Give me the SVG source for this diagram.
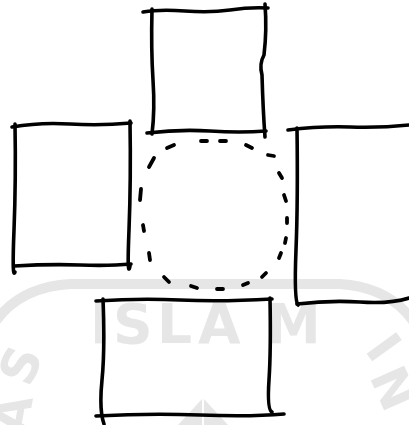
<svg xmlns="http://www.w3.org/2000/svg" width="409" height="425" viewBox="0 0 409 425">
<style>
.wm{fill:#e6e6e6;font-family:"DejaVu Sans","Liberation Sans",sans-serif;font-weight:bold;}
.ln{fill:none;stroke:#000;stroke-width:3.6;stroke-linecap:round;stroke-linejoin:round;}
.dash{fill:none;stroke:#000;stroke-width:3.8;stroke-linecap:round;}
</style>
<rect width="409" height="425" fill="#fff"/>
<g id="watermark">
<path d="M-5,322 Q20,287 70,284 L340,284 Q389,287 414,322" fill="none" stroke="#e6e6e6" stroke-width="10"/>
<text class="wm" x="90 113 157 198 266" y="343" font-size="55">ISLAM</text>
<text class="wm" font-size="50" text-anchor="middle" dy="18" transform="translate(20,365) rotate(-68)">S</text>
<text class="wm" font-size="50" text-anchor="middle" dy="18" transform="translate(12,414) rotate(-80)">A</text>
<text class="wm" font-size="50" text-anchor="middle" dy="18" transform="translate(384,347) rotate(54)">I</text>
<text class="wm" font-size="50" text-anchor="middle" dy="18" transform="translate(394,388) rotate(66)">N</text>
<polygon points="203,398 178,425 228,425" fill="#e6e6e6"/>
<line x1="203" y1="396" x2="203" y2="425" stroke="#fff" stroke-width="2"/>
</g>
<g id="connectors"></g>
<g id="node-top">
<path class="ln" d="M143,12 Q160,9 185,11 T230,10 T268,8"/>
<path class="ln" d="M265,4 Q267,30 264,55 Q259,64 262,75 Q263,110 265,137"/>
<path class="ln" d="M152,9 Q151,50 153,80 T152,134"/>
<path class="ln" d="M147,133 Q180,129 210,131 T266,131"/>
</g>
<g id="node-left">
<path class="ln" d="M12,127 Q40,122 70,124 T131,123"/>
<path class="ln" d="M15,124 Q16,180 14,230 T15,272"/>
<path class="ln" d="M130,121 Q131,180 129,230 T130,266"/>
<path class="ln" d="M14,266 Q50,264 80,265 T131,264"/>
</g>
<g id="node-right">
<path class="ln" d="M288,130 Q320,126 350,127 T409,125"/>
<path class="ln" d="M297,128 Q298,200 296,250 T298,305"/>
<path class="ln" d="M297,304 Q330,300 360,302 T409,298"/>
</g>
<g id="node-bottom">
<path class="ln" d="M96,301 Q140,298 180,300 T272,299"/>
<path class="ln" d="M103,299 Q105,350 102,380 T104,424"/>
<path class="ln" d="M270,298 Q271,350 269,380 T272,412"/>
<path class="ln" d="M96,416 Q150,413 200,415 T284,414"/>
</g>
<g id="node-center">
<path class="dash" d="M167,148 L174,145 M201,141 L207,141 M220,141 L226,141 M246,145 L252,148 M268,155 L274,156 M279,173 L282,178 M284,195 L286,201 M287,218 L287,223 M286,238 L285,243 M281,253 L279,258 M266,273 L262,277 M248,283 L243,285 M217,289 L223,289 M191,286 L197,288 M164,277 L169,282 M149,253 L150,260 M143,225 L144,231 M141,189 L140,200 M154,158 L149,167"/>
</g>
</svg>
